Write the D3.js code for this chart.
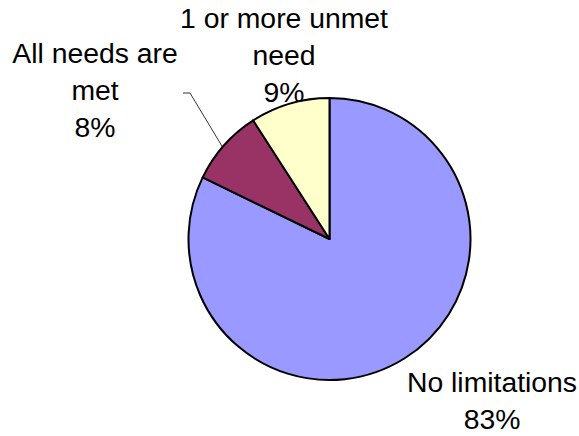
<!DOCTYPE html>
<html>
<head>
<meta charset="utf-8">
<script src="https://cdn.jsdelivr.net/npm/d3@7"></script>
<style>
  html, body { margin: 0; padding: 0; background: #fff; }
  svg { display: block; }
  text { font-family: "Liberation Sans", Arial, sans-serif; fill: #000; }
</style>
</head>
<body>
<svg id="chart" width="579" height="436"></svg>
<script>
// ---- data ----
const categories = ["No limitations", "All needs are met", "1 or more unmet need"];
const values = [82.2, 8.7, 9.1];
const pctLabels = ["83%", "8%", "9%"];
const labelLines = [["No limitations"], ["All needs are", "met"], ["1 or more unmet", "need"]];
const colors = ["#9999FF", "#993366", "#FFFFCC"];

// ---- layout ----
const W = 579, H = 436;
const cx = 329.5, cy = 239, R = 141;
const fontSize = 27, lineH = 37, stretch = 1.05;
const labelPos = [
  { x: 492, y: 392 },
  { x: 95, y: 63 },
  { x: 284, y: 28 }
];

const svg = d3.select("#chart");
const g = svg.append("g").attr("transform", `translate(${cx},${cy})`);

const pie = d3.pie().sort(null).value(d => d)
  .startAngle(0).endAngle(2 * Math.PI);
const arc = d3.arc().innerRadius(0).outerRadius(R);
const arcs = pie(values);

g.selectAll("path.slice")
  .data(arcs)
  .join("path")
  .attr("class", "slice")
  .attr("d", arc)
  .attr("fill", (d, i) => colors[i])
  .attr("stroke", "#000")
  .attr("stroke-width", 2)
  .attr("stroke-linejoin", "round");

// leader line for "All needs are met"
const mid = (arcs[1].startAngle + arcs[1].endAngle) / 2;
const ax = cx + Math.sin(mid) * R * 1.0, ay = cy - Math.cos(mid) * R * 1.0;
svg.append("polyline")
  .attr("points", [[183, 93], [190, 93], [222.5, 147]].map(p => p.join(",")).join(" "))
  .attr("fill", "none")
  .attr("stroke", "#000")
  .attr("stroke-width", 0.8);

// labels
categories.forEach((c, i) => {
  const lines = labelLines[i].concat([pctLabels[i]]);
  const p = labelPos[i];
  const t = svg.append("text")
    .attr("text-anchor", "middle")
    .attr("font-size", fontSize)
    .attr("transform", `translate(${p.x},${p.y}) scale(${stretch},1)`);
  lines.forEach((ln, k) => {
    t.append("tspan").attr("x", 0).attr("y", k * lineH).text(ln);
  });
});
</script>
</body>
</html>
